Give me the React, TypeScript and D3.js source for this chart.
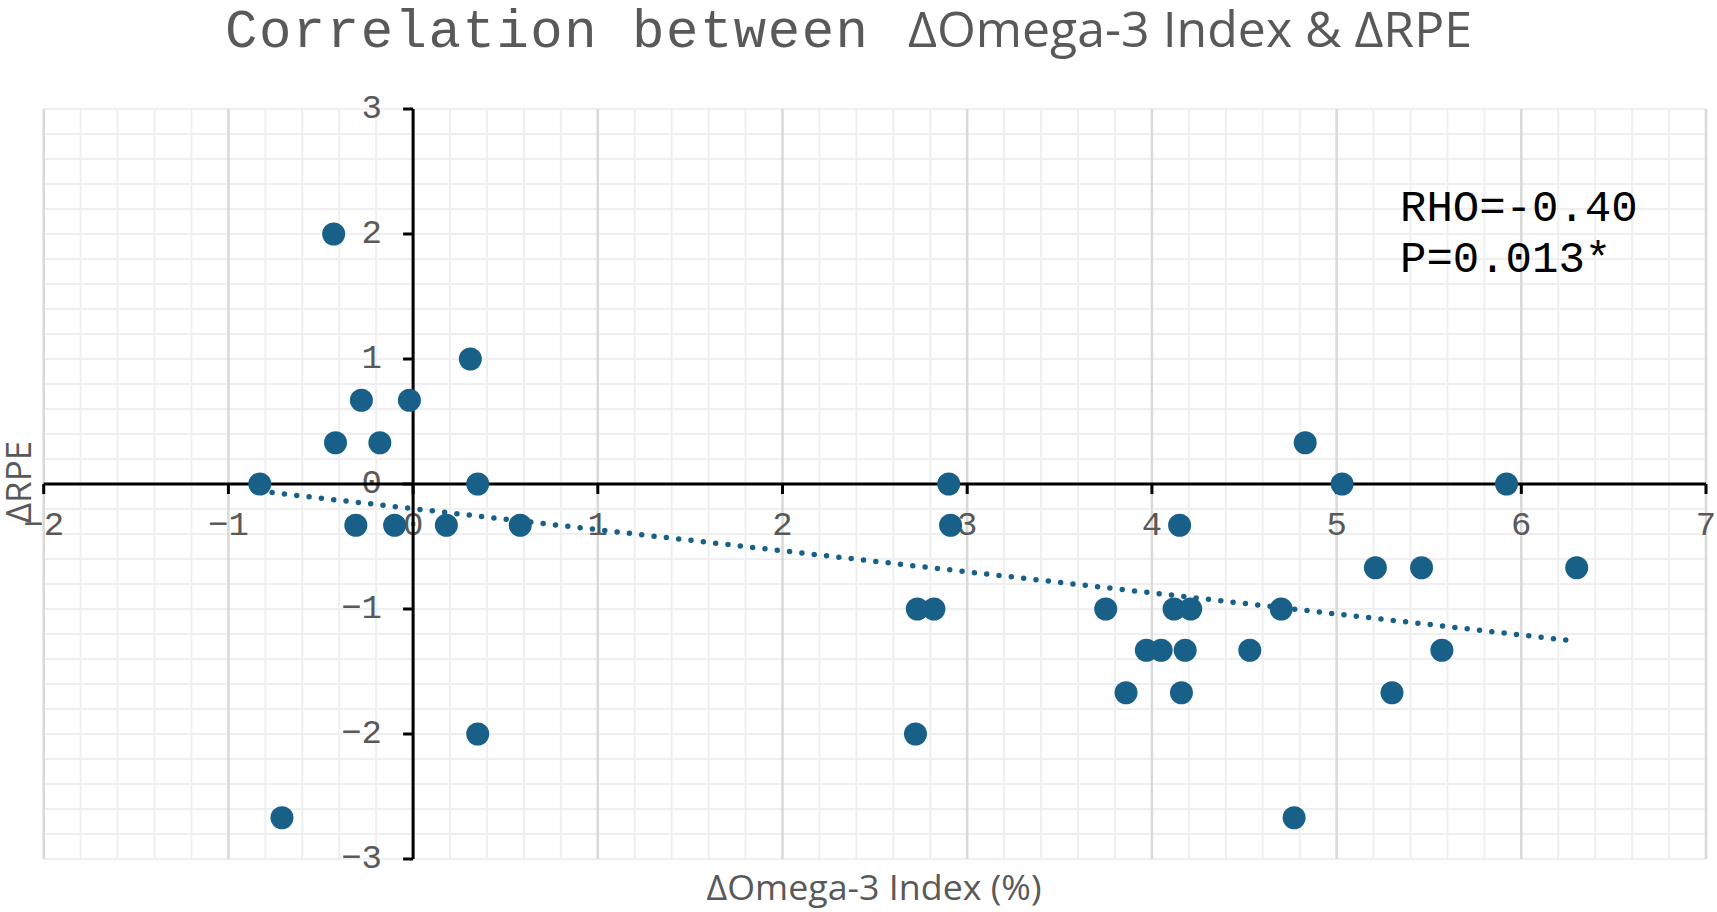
import React, { useEffect } from "react";
import * as d3 from "d3";

const omegaDelta: number[] = [
  -0.43, 0.31, -0.28, -0.02, -0.42, -0.18, -0.83, 0.35, -0.31, -0.1, 0.18, 0.58, 0.35, -0.71,
  2.9, 2.91, 2.73, 2.82, 2.72, 3.75, 3.97, 4.05, 3.86, 4.15, 4.12, 4.21, 4.18, 4.16, 4.53,
  4.7, 4.83, 5.03, 4.77, 5.21, 5.46, 5.57, 5.3, 5.92, 6.3,
];
const rpeDelta: number[] = [
  2, 1, 0.67, 0.67, 0.33, 0.33, 0, 0, -0.33, -0.33, -0.33, -0.33, -2, -2.67,
  0, -0.33, -1, -1, -2, -1, -1.33, -1.33, -1.67, -0.33, -1, -1, -1.33, -1.67, -1.33,
  -1, 0.33, 0, -2.67, -0.67, -0.67, -1.33, -1.67, 0, -0.67,
];
const xTicks: number[] = [-2, -1, 0, 1, 2, 3, 4, 5, 6, 7];
const yTicks: number[] = [-3, -2, -1, 0, 1, 2, 3];
const titleMono = "Correlation between";
const titleSans = "ΔOmega-3 Index & ΔRPE";
const xTitle = "ΔOmega-3 Index (%)";
const yTitle = "ΔRPE";
const statLines: string[] = ["RHO=-0.40", "P=0.013*"];

const W = 1717;
const H = 912;
const MONO = "'Liberation Mono', 'Courier New', monospace";
const SANS = "'Open Sans', 'Noto Sans', sans-serif";
const GRAY = "#595959";
const BLUE = "#186087";

export default function App() {
  useEffect(() => {
    document.body.style.margin = "0";
  }, []);

  const x = d3.scaleLinear().domain([-2, 7]).range([43.7, 1706]);
  const y = d3.scaleLinear().domain([-3, 3]).range([859, 109]);

  const minor = d3.range(-2, 7.0001, 0.2).map((v) => +v.toFixed(2));
  const minorY = d3.range(-3, 3.0001, 0.2).map((v) => +v.toFixed(2));

  // linear regression trendline
  const n = omegaDelta.length;
  const mx = d3.mean(omegaDelta) as number;
  const my = d3.mean(rpeDelta) as number;
  let sxy = 0;
  let sxx = 0;
  for (let i = 0; i < n; i++) {
    sxy += (omegaDelta[i] - mx) * (rpeDelta[i] - my);
    sxx += (omegaDelta[i] - mx) ** 2;
  }
  const slope = sxy / sxx;
  const icpt = my - slope * mx;
  const [x0, x1] = d3.extent(omegaDelta) as [number, number];
  const trend = d3
    .line<number>()
    .x((d) => x(d))
    .y((d) => y(icpt + slope * d))([x0, x1]);

  const pts = omegaDelta.map((v, i) => ({ xv: v, yv: rpeDelta[i] }));

  return (
    <svg width={W} height={H} style={{ position: "absolute", left: 0, top: 0, background: "#fff" }}>
      {/* title */}
      <text
        x={225}
        y={47}
        fontFamily={MONO}
        fontSize={54}
        fill={GRAY}
        textLength={643}
        lengthAdjust="spacing"
      >
        {titleMono}
      </text>
      <text
        x={908}
        y={47}
        fontFamily={SANS}
        fontSize={50}
        fill={GRAY}
        textLength={564}
        lengthAdjust="spacingAndGlyphs"
      >
        {titleSans}
      </text>

      {/* gridlines */}
      <g>
        {minorY.map((v) => (
          <line key={"hy" + v} x1={x(-2)} x2={x(7)} y1={y(v)} y2={y(v)} stroke="#efefef" strokeWidth={2} />
        ))}
        {minor
          .filter((v) => Math.abs(v - Math.round(v)) > 0.01)
          .map((v) => (
            <line key={"vx" + v} x1={x(v)} x2={x(v)} y1={y(3)} y2={y(-3)} stroke="#efefef" strokeWidth={2} />
          ))}
        {xTicks.map((v) => (
          <line key={"mx" + v} x1={x(v)} x2={x(v)} y1={y(3)} y2={y(-3)} stroke="#d9d9d9" strokeWidth={2.5} />
        ))}
      </g>

      {/* tick labels */}
      <g fontFamily={MONO} fontSize={34} fill={GRAY}>
        {yTicks.map((v) => (
          <text key={"yl" + v} x={382} y={y(v)} textAnchor="end" dominantBaseline="central">
            {d3.format("")(v).replace("-", "−")}
          </text>
        ))}
        {xTicks.map((v) => (
          <text key={"xl" + v} x={x(v)} y={526} textAnchor="middle" dominantBaseline="central">
            {d3.format("")(v).replace("-", "−")}
          </text>
        ))}
      </g>

      {/* axes */}
      <g stroke="#000" strokeWidth={3}>
        <line x1={x(-2)} x2={x(7)} y1={y(0)} y2={y(0)} />
        <line x1={x(0)} x2={x(0)} y1={y(3)} y2={y(-3)} />
        {xTicks.map((v) => (
          <line key={"xt" + v} x1={x(v)} x2={x(v)} y1={y(0)} y2={y(0) + 10} />
        ))}
        {yTicks.map((v) => (
          <line key={"yt" + v} x1={x(0) - 10} x2={x(0)} y1={y(v)} y2={y(v)} />
        ))}
      </g>

      {/* trendline */}
      <path d={trend || ""} fill="none" stroke={BLUE} strokeWidth={5.5} strokeLinecap="round" strokeDasharray="0 12.4" />

      {/* points */}
      <g fill={BLUE}>
        {pts.map((p, i) => (
          <circle key={i} cx={x(p.xv)} cy={y(p.yv)} r={11.5} />
        ))}
      </g>

      {/* stats */}
      <g fontFamily={MONO} fontSize={44} fill="#000">
        {statLines.map((s, i) => (
          <text key={s} x={1400} y={221 + i * 51}>
            {s}
          </text>
        ))}
      </g>

      {/* axis titles */}
      <text
        x={874}
        y={900}
        textAnchor="middle"
        fontFamily={SANS}
        fontSize={35}
        fill={GRAY}
        textLength={335}
        lengthAdjust="spacingAndGlyphs"
      >
        {xTitle}
      </text>
      <text
        transform={`translate(31, 482) rotate(-90)`}
        textAnchor="middle"
        fontFamily={SANS}
        fontSize={35}
        fill={GRAY}
      >
        {yTitle}
      </text>
    </svg>
  );
}
